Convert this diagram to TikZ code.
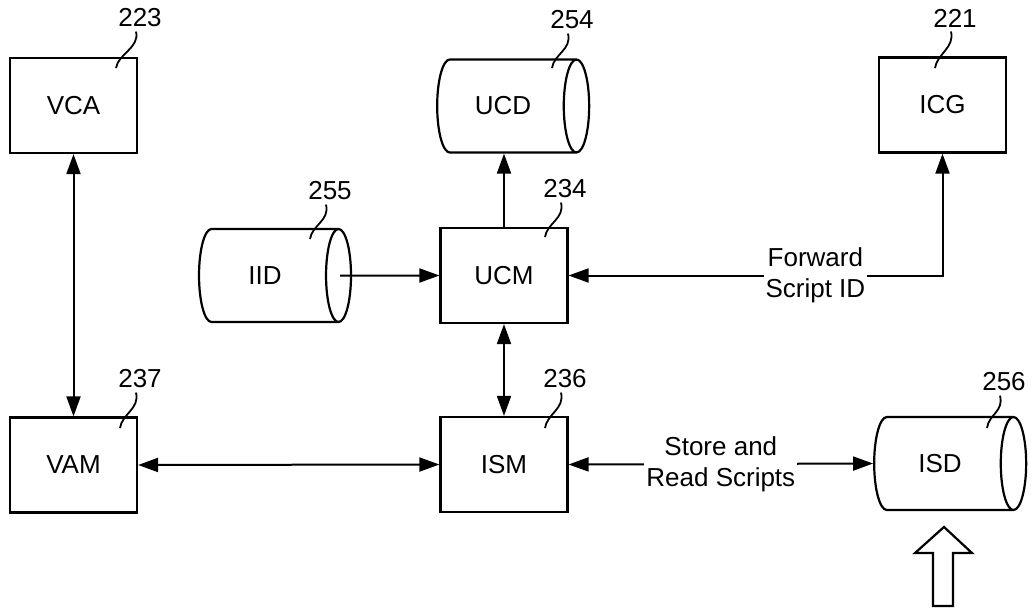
\documentclass[tikz,border=0pt]{standalone}
\usepackage{fontspec}
\setmainfont{Liberation Sans}
\usetikzlibrary{arrows.meta,shapes.geometric}

\begin{document}
\begin{tikzpicture}[x=0.5pt,y=-0.5pt,
		font=\fontsize{13}{15.5}\selectfont,
		>={Triangle[length=10pt,width=7pt]},
		block/.style={rectangle,draw,line width=1.1pt,minimum width=63.5pt,minimum height=47.5pt},
		store/.style={cylinder,draw,line width=1.1pt,aspect=0.8,minimum height=76pt,minimum width=46.5pt},
		link/.style={line width=1pt},
		linelabel/.style={fill=white,inner xsep=1pt,inner ysep=0pt,align=center},
		refnum/.style={inner sep=2pt},
		leader/.style={line width=0.9pt}]
		\useasboundingbox (0,0) rectangle (1035,611);

		\node at (73.5, 105.5) [block] (vca) {VCA};
		\node at (942.5,  105) [block] (icg) {ICG};
		\node at (504,  275.5) [block] (ucm) {UCM};
		\node at (504,  464.5) [block] (ism) {ISM};
		\node at (73.5,   465) [block] (vam) {VAM};
		\node at (503,    106) [store] (ucd) {UCD};
		\node at (265,  275.5) [store] (iid) {IID};
		\node at (940,  463.5) [store] (isd) {ISD};

		% reference numbers
		\node at (140,   18) [refnum] (ref_223) {223};
		\node at (572,   20) [refnum] (ref_254) {254};
		\node at (955,   18) [refnum] (ref_221) {221};
		\node at (330,  191) [refnum] (ref_255) {255};
		\node at (565,  189) [refnum] (ref_234) {234};
		\node at (565,  379) [refnum] (ref_236) {236};
		\node at (140,  379) [refnum] (ref_237) {237};
		\node at (1004, 382) [refnum] (ref_256) {256};

		\draw[leader] ([xshift=-2pt]ref_223.south) .. controls +(4,16) and +(2,-14) .. ([shift={(-24,50)}]ref_223.center);
		\draw[leader] ([xshift=-2pt]ref_254.south) .. controls +(4,16) and +(2,-14) .. ([shift={(-20,48)}]ref_254.center);
		\draw[leader] ([xshift=-2pt]ref_221.south) .. controls +(4,16) and +(2,-14) .. ([shift={(-20,50)}]ref_221.center);
		\draw[leader] ([xshift=-2pt]ref_255.south) .. controls +(4,16) and +(2,-14) .. ([shift={(-20,48)}]ref_255.center);
		\draw[leader] ([xshift=-2pt]ref_234.south) .. controls +(4,16) and +(2,-14) .. ([shift={(-20,48)}]ref_234.center);
		\draw[leader] ([xshift=-2pt]ref_236.south) .. controls +(4,16) and +(2,-14) .. ([shift={(-20,49)}]ref_236.center);
		\draw[leader] ([xshift=-2pt]ref_237.south) .. controls +(4,16) and +(2,-14) .. ([shift={(-20,49)}]ref_237.center);
		\draw[leader] ([xshift=-2pt]ref_256.south) .. controls +(4,16) and +(2,-14) .. ([shift={(-17,46)}]ref_256.center);

		% connections
		\draw[link,<->] (vca.south) -- (vam.north);
		\draw[link,<->] (vam.east)  -- (ism.west);
		\draw[link,<->] (ucm.south) -- (ism.north);
		\draw[link,->]  (ucm.north) -- (ucm.north |- ucd.south);
		\draw[link,->]  ([xshift=-6pt]iid.east) -- (ucm.west);
		\draw[link,<->] (ucm.east) -- node[linelabel,pos=0.66] {Forward\\Script ID} (ucm.east -| icg.south) -- (icg.south);
		\draw[link,<->] (ism.east) -- node[linelabel] {Store and\\Read Scripts} (isd.west);

		% input arrow
		\draw[line width=1.1pt] (944,527) -- (972,553) -- (953,553) -- (953,606) -- (933,606) -- (933,553) -- (915,553) -- cycle;
	\end{tikzpicture}
\end{document}
